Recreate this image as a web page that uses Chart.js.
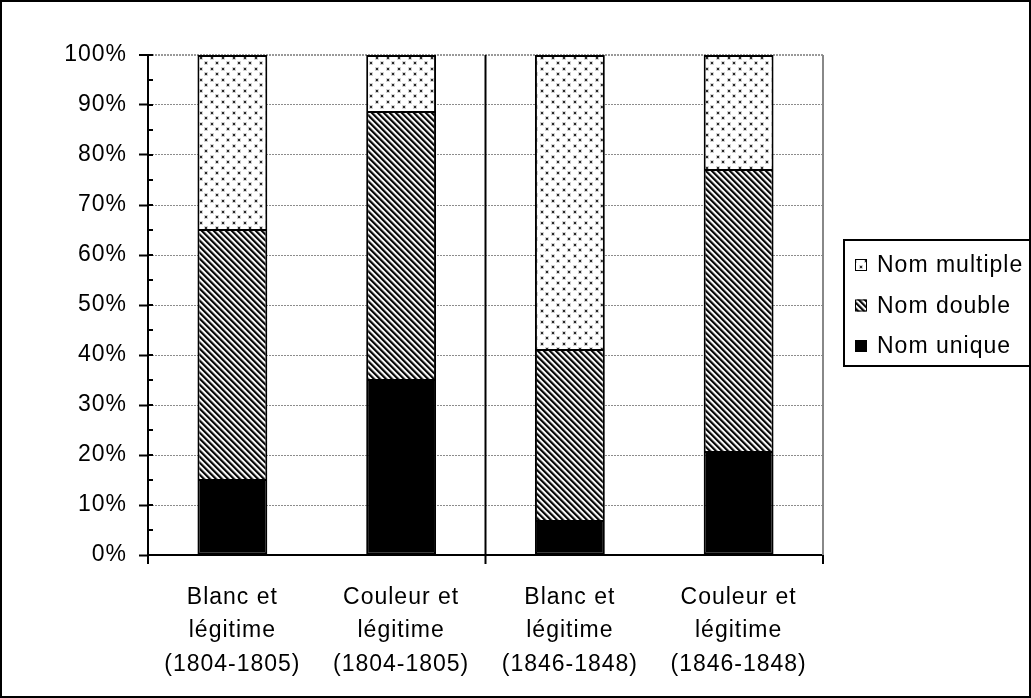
<!DOCTYPE html>
<html>
<head>
<meta charset="utf-8">
<script src="https://cdn.jsdelivr.net/npm/chart.js@4.4.1/dist/chart.umd.min.js"></script>
<style>
   html, body { margin: 0; padding: 0; background: #fff; }
   #wrap { width: 1031px; height: 698px; position: relative; }
</style>
</head>
<body>
<div id="wrap"><canvas id="namesChart"></canvas></div>
<script>
const categories = [
   ['Blanc et', 'légitime', '(1804-1805)'],
   ['Couleur et', 'légitime', '(1804-1805)'],
   ['Blanc et', 'légitime', '(1846-1848)'],
   ['Couleur et', 'légitime', '(1846-1848)']
];

const nomUnique = [15.2, 35.2, 7, 20.8];
const nomDouble = [50, 53.6, 34.2, 56.4];
const nomMultiple = [34.8, 11.2, 58.8, 22.8];

const yTicks = [0, 10, 20, 30, 40, 50, 60, 70, 80, 90, 100];

const FONT = 'Liberation Sans, Arial, sans-serif';
const FONT_SIZE = 23;
const SPACING = '1px';

// fill patterns, like the old office hatches
function stripePattern() {
   const c = document.createElement('canvas');
   c.width = 6;
   c.height = 6;
   const g = c.getContext('2d');
   const shades = ['#222', '#000', '#444', '#b0b0b0', '#fff', '#e0e0e0'];
   for (let y = 0; y < 6; y++) {
      for (let x = 0; x < 6; x++) {
         g.fillStyle = shades[((x - y) % 6 + 6) % 6];
         g.fillRect(x, y, 1, 1);
      }
   }
   return g.createPattern(c, 'repeat');
}

function dotPattern() {
   const c = document.createElement('canvas');
   c.width = 11;
   c.height = 11;
   const g = c.getContext('2d');
   g.fillStyle = '#fff';
   g.fillRect(0, 0, 11, 11);
   g.fillStyle = '#d4d4d4';
   g.fillRect(1, 1, 4, 4);
   g.fillRect(6, 6, 4, 4);
   g.fillStyle = '#2a2a2a';
   g.fillRect(2, 2, 2, 2);
   g.fillRect(7, 7, 2, 2);
   return g.createPattern(c, 'repeat');
}

const frame = {
   id: 'frame',

   beforeLayout(chart) {
      chart.ctx.letterSpacing = SPACING;
   },

   beforeDraw(chart) {
      chart.ctx.letterSpacing = SPACING;
   },

   afterDatasetsDraw(chart) {
      const ctx = chart.ctx;
      const area = chart.chartArea;
      const x = chart.scales.x;
      const y = chart.scales.y;

      ctx.save();

      // plot area right edge
      ctx.strokeStyle = '#888';
      ctx.lineWidth = 2;
      ctx.beginPath();
      ctx.moveTo(area.right, area.top);
      ctx.lineTo(area.right, area.bottom);
      ctx.stroke();

      // separator between the two periods and bottom ticks
      ctx.strokeStyle = '#000';
      ctx.lineWidth = 2;
      const mid = (x.getPixelForValue(1) + x.getPixelForValue(2)) / 2;
      ctx.beginPath();
      ctx.moveTo(mid, area.top);
      ctx.lineTo(mid, area.bottom + 9);
      ctx.moveTo(area.left, area.bottom);
      ctx.lineTo(area.left, area.bottom + 9);
      ctx.moveTo(area.right, area.bottom);
      ctx.lineTo(area.right, area.bottom + 9);
      ctx.stroke();

      // inner minor ticks on the value axis
      for (let v = 0; v <= 100; v += 5) {
         const py = y.getPixelForValue(v);
         ctx.beginPath();
         ctx.moveTo(area.left, py);
         ctx.lineTo(area.left + 5, py);
         ctx.stroke();
      }

      ctx.restore();
   },

   afterDraw(chart) {
      const ctx = chart.ctx;
      const sets = chart.data.datasets;

      ctx.save();
      ctx.letterSpacing = SPACING;

      // legend box
      ctx.strokeStyle = '#000';
      ctx.lineWidth = 2;
      ctx.strokeRect(844, 240, 200, 126);

      ctx.font = FONT_SIZE + 'px ' + FONT;
      ctx.textBaseline = 'middle';

      for (let i = sets.length - 1, row = 0; i >= 0; i--, row++) {
         const cy = 265 + row * 40.5;
         ctx.fillStyle = sets[i].backgroundColor;
         ctx.fillRect(855, cy - 6, 12, 12);
         ctx.lineWidth = 1;
         ctx.strokeStyle = '#000';
         ctx.strokeRect(855.5, cy - 5.5, 11, 11);
         ctx.fillStyle = '#000';
         ctx.fillText(sets[i].label, 877, cy + 1);
      }

      // outer chart frame
      ctx.lineWidth = 2;
      ctx.strokeRect(1, 1, 1029, 696);

      ctx.restore();
   }
};

const ctx = document.getElementById('namesChart');

new Chart(ctx, {
   type: 'bar',

   data: {
      labels: categories,

      datasets: [
         {
            label: 'Nom unique',

            data: nomUnique,

            backgroundColor: '#000',

            borderColor: '#000',

            borderWidth: 2,

            borderSkipped: false
         },

         {
            label: 'Nom double',

            data: nomDouble,

            backgroundColor: stripePattern(),

            borderColor: '#000',

            borderWidth: 2,

            borderSkipped: 'start'
         },

         {
            label: 'Nom multiple',

            data: nomMultiple,

            backgroundColor: dotPattern(),

            borderColor: '#000',

            borderWidth: 2,

            borderSkipped: 'start'
         }
      ]
   },

   options: {
      responsive: true,

      maintainAspectRatio: false,

      animation: false,

      categoryPercentage: 1,

      barPercentage: 0.414,

      layout: {
         padding: {
            top: 55,
            right: 208,
            bottom: 0,
            left: 0
         }
      },

      plugins: {
         legend: {
            display: false
         },

         tooltip: {
            enabled: false
         }
      },

      scales: {
         x: {
            stacked: true,

            afterFit(scale) {
               scale.height = 143;
            },

            grid: {
               display: false
            },

            border: {
               display: true,
               color: '#000',
               width: 2
            },

            ticks: {
               color: '#000',
               padding: 18,
               maxRotation: 0,
               autoSkip: false,
               font: {
                  family: FONT,
                  size: FONT_SIZE,
                  lineHeight: 1.45
               }
            }
         },

         y: {
            stacked: true,

            min: 0,

            max: 100,

            afterFit(scale) {
               scale.width = 148;
            },

            afterBuildTicks(scale) {
               scale.ticks = yTicks.map(v => ({ value: v }));
            },

            ticks: {
               color: '#000',
               padding: 12,
               callback: v => v + '%',
               font: {
                  family: FONT,
                  size: FONT_SIZE
               }
            },

            grid: {
               color: ctx => ctx.tick && ctx.tick.value === 100 ? '#999' : '#8c8c8c',
               lineWidth: ctx => ctx.tick && ctx.tick.value === 100 ? 2 : 1,
               tickColor: '#000',
               tickLength: 9,
               tickWidth: 2
            },

            border: {
               display: true,
               color: '#000',
               width: 2,
               dash: [2, 1]
            }
         }
      }
   },

   plugins: [frame]
});
</script>
</body>
</html>
